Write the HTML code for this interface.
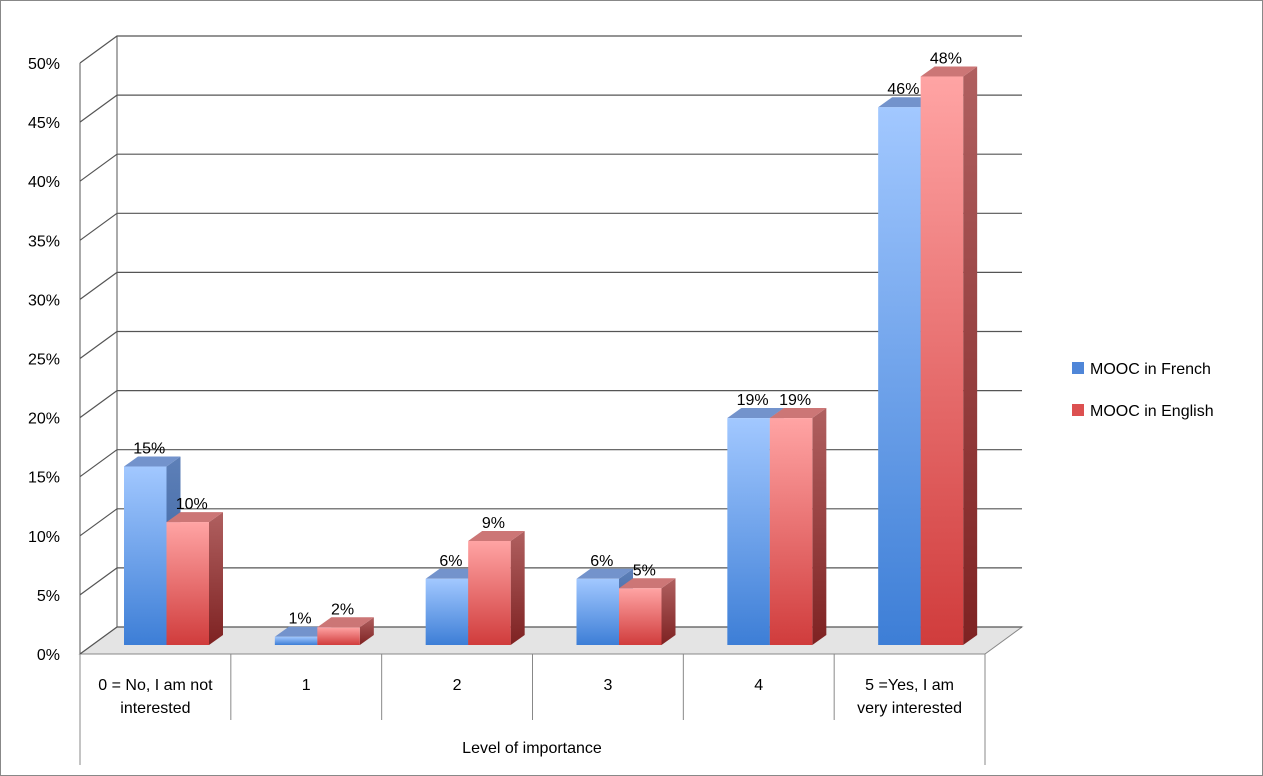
<!DOCTYPE html>
<html><head><meta charset="utf-8"><style>
body{margin:0;background:#fff;}
svg{display:block;font-family:"Liberation Sans",sans-serif;}
</style></head><body>
<svg id="chart" width="1263" height="776">
<defs>
<linearGradient id="gb" x1="0" y1="0" x2="0" y2="1"><stop offset="0" stop-color="#a2c8ff"/><stop offset="1" stop-color="#3d7ed6"/></linearGradient>
<linearGradient id="gr" x1="0" y1="0" x2="0" y2="1"><stop offset="0" stop-color="#ffa4a4"/><stop offset="1" stop-color="#d03c3c"/></linearGradient>
<linearGradient id="sb" x1="0" y1="0" x2="0" y2="1"><stop offset="0" stop-color="#5e80b8"/><stop offset="1" stop-color="#2d5a9a"/></linearGradient>
<linearGradient id="sr" x1="0" y1="0" x2="0" y2="1"><stop offset="0" stop-color="#b06060"/><stop offset="1" stop-color="#7e2222"/></linearGradient>
</defs>
<rect x="0.5" y="0.5" width="1262" height="775" fill="#fff" stroke="#888"/>
</svg>
<script>
const categories=["0 = No, I am not|interested","1","2","3","4","5 =Yes, I am|very interested"];
const french=[15.1,0.7,5.6,5.6,19.2,45.5];
const english=[10.4,1.5,8.8,4.8,19.2,48.1];
const frenchLabels=["15%","1%","6%","6%","19%","46%"];
const englishLabels=["10%","2%","9%","5%","19%","48%"];
const ticks=[0,5,10,15,20,25,30,35,40,45,50];
const svg=document.getElementById('chart');
const NS="http://www.w3.org/2000/svg";
const X0=80,X1=985,Y0=654,PXP=11.82,DX=37,DY=-27;
const y=v=>Y0-v*PXP;
const cw=(X1-X0)/categories.length;
function mk(t,a,p){const e=document.createElementNS(NS,t);for(const k in a)e.setAttribute(k,a[k]);(p||svg).appendChild(e);return e;}
// floor
let fl=mk('polygon',{points:`${X0},${Y0} ${X1},${Y0} ${X1+DX},${Y0+DY} ${X0+DX},${Y0+DY}`,fill:'#e4e4e4',stroke:'#888'});

// grid
ticks.forEach(t=>{
 const g=mk('polyline',{points:`${X0},${y(t)} ${X0+DX},${y(t)+DY} ${X1+DX},${y(t)+DY}`,fill:'none',stroke:'#555','stroke-width':1.2});
 
 const l=mk('text',{x:60,y:y(t)+6,'text-anchor':'end','font-size':16,fill:'#000'});l.textContent=t+'%';
 
});
let ax=mk('line',{x1:X0,y1:y(50),x2:X0,y2:Y0,stroke:'#555'});
let bw=mk('line',{x1:X0+DX,y1:y(50)+DY,x2:X0+DX,y2:Y0+DY,stroke:'#555'});
// category separators
for(let i=0;i<=categories.length;i++){
 const x=X0+i*cw,end=(i==0||i==categories.length)?765:720;
 const s=mk('line',{x1:x,y1:Y0,x2:x,y2:end,stroke:'#888'});
}
categories.forEach((c,i)=>{
 const lines=c.split('|');const cx=X0+(i+0.5)*cw;
 lines.forEach((ln,j)=>{const t=mk('text',{x:cx,y:690+j*23,'text-anchor':'middle','font-size':16});t.textContent=ln;
 });
});
let xt=mk('text',{x:532,y:753,'text-anchor':'middle','font-size':16});xt.textContent='Level of importance';

// bars
const BB=645,bwid=42.5,dx=14,dy=-10;
function bar(x,v,front,side,top,lab,name){
 const g=mk('g',{});
 const yt=BB-v*PXP;
 mk('polygon',{points:`${x+bwid},${BB} ${x+bwid+dx},${BB+dy} ${x+bwid+dx},${yt+dy} ${x+bwid},${yt}`,fill:`url(#${side})`},g);
 mk('polygon',{points:`${x},${yt} ${x+dx},${yt+dy} ${x+bwid+dx},${yt+dy} ${x+bwid},${yt}`,fill:top},g);
 mk('rect',{x:x,y:yt,width:bwid,height:BB-yt,fill:`url(#${front})`},g);
 const t=mk('text',{x:x+bwid/2+4,y:yt-13,'text-anchor':'middle','font-size':16},g);t.textContent=lab;
}
categories.forEach((c,i)=>{
 const bx=X0+i*cw+44;
 bar(bx,french[i],'gb','sb','#7393cc',frenchLabels[i],'bar-french-'+i);
 bar(bx+bwid,english[i],'gr','sr','#cc7676',englishLabels[i],'bar-english-'+i);
});
// legend
[['#4f86d8','MOOC in French',368,'legend-french'],['#dc5050','MOOC in English',410,'legend-english']].forEach(l=>{
 const g=mk('g',{});
 mk('rect',{x:1072,y:l[2]-6,width:12,height:12,fill:l[0]},g);
 const t=mk('text',{x:1090,y:l[2]+6,'font-size':16},g);t.textContent=l[1];
});
</script>
</body></html>
